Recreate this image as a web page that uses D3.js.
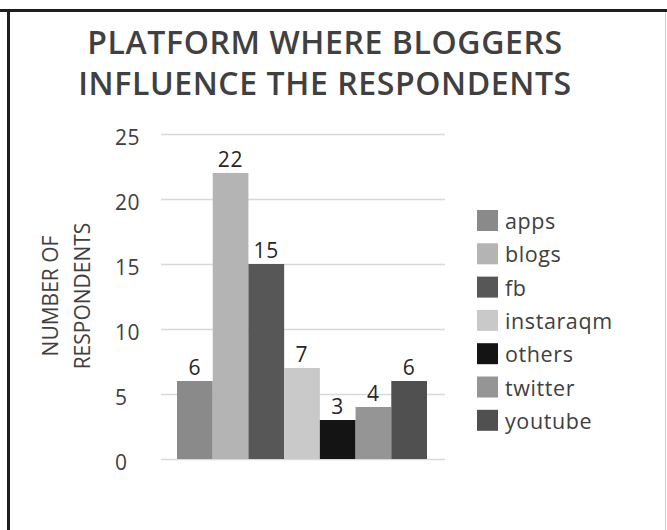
<!DOCTYPE html>
<html>
<head>
<meta charset="utf-8">
<script src="https://cdn.jsdelivr.net/npm/d3@7"></script>
<style>
  html, body { margin: 0; padding: 0; background: #fff; }
  svg { display: block; }
</style>
</head>
<body>
<svg id="chart" width="667" height="530"></svg>
<script>
// Platforms and how many respondents named each one
const platforms = ["apps", "blogs", "fb", "instaraqm", "others", "twitter", "youtube"];
const respondents = [6, 22, 15, 7, 3, 4, 6];
const platformColors = ["#8a8a8a", "#b4b4b4", "#575757", "#c9c9c9", "#141414", "#959595", "#505050"];
const yTicks = [0, 5, 10, 15, 20, 25];
const titleLines = ["PLATFORM WHERE BLOGGERS", "INFLUENCE THE RESPONDENTS"];
const yTitleLines = ["NUMBER OF", "RESPONDENTS"];

const svg = d3.select("#chart");
const font = "'Open Sans', 'Noto Sans', sans-serif";
const textColor = "#404040";

// frame
svg.append("rect").attr("x", 0).attr("y", 0).attr("width", 667).attr("height", 530).attr("fill", "#fff");
svg.append("line").attr("x1", 0).attr("x2", 667).attr("y1", 10.5).attr("y2", 10.5)
  .attr("stroke", "#1e1e1e").attr("stroke-width", 3);
svg.append("line").attr("x1", 8.5).attr("x2", 8.5).attr("y1", 10).attr("y2", 530)
  .attr("stroke", "#1e1e1e").attr("stroke-width", 3);
svg.append("line").attr("x1", 665.5).attr("x2", 665.5).attr("y1", 12).attr("y2", 530)
  .attr("stroke", "#d0d0d0").attr("stroke-width", 1);

// title
svg.append("g").selectAll("text").data(titleLines).join("text")
  .attr("x", 325).attr("y", (d, i) => 54 + i * 41)
  .attr("text-anchor", "middle")
  .attr("font-family", font).attr("font-weight", 600).attr("font-size", 32)
  .attr("letter-spacing", 0.6)
  .attr("fill", textColor)
  .text(d => d);

// scales
const y = d3.scaleLinear().domain([0, 25]).range([459, 134]);
const x = d3.scaleBand().domain(platforms).range([177, 427]).padding(0);
const color = d3.scaleOrdinal().domain(platforms).range(platformColors);

// gridlines
svg.append("g").selectAll("line").data(yTicks).join("line")
  .attr("x1", 161).attr("x2", 445)
  .attr("y1", d => y(d) + 0.5).attr("y2", d => y(d) + 0.5)
  .attr("stroke", "#d9d9d9").attr("stroke-width", 1.5);

// y tick labels
svg.append("g").selectAll("text").data(yTicks).join("text")
  .attr("x", 115).attr("y", d => y(d) + 10.5)
  .attr("font-family", font).attr("font-size", 21)
  .attr("letter-spacing", 0.5)
  .attr("fill", textColor)
  .text(d => d);

// y axis title
svg.append("g").attr("transform", "translate(0,296) rotate(-90)")
  .selectAll("text").data(yTitleLines).join("text")
  .attr("x", 0).attr("y", (d, i) => 58 + i * 32)
  .attr("text-anchor", "middle")
  .attr("font-family", font).attr("font-size", 21)
  .attr("fill", textColor)
  .text(d => d);

// bars
const data = platforms.map((p, i) => ({ p, v: respondents[i] }));
svg.append("g").selectAll("rect").data(data).join("rect")
  .attr("x", d => x(d.p)).attr("width", x.bandwidth())
  .attr("y", d => y(d.v)).attr("height", d => y(0) - y(d.v))
  .attr("fill", d => color(d.p));

// value labels
svg.append("g").selectAll("text").data(data).join("text")
  .attr("x", d => x(d.p) + x.bandwidth() / 2).attr("y", d => y(d.v) - 6)
  .attr("text-anchor", "middle")
  .attr("font-family", font).attr("font-size", 21)
  .attr("letter-spacing", 0.8)
  .attr("fill", "#262626")
  .text(d => d.v);

// legend
const legend = svg.append("g").selectAll("g").data(platforms).join("g")
  .attr("transform", (d, i) => `translate(477, ${210 + i * 33.3})`);
legend.append("rect").attr("width", 21).attr("height", 21).attr("fill", d => color(d));
legend.append("text").attr("x", 28).attr("y", 19)
  .attr("font-family", font).attr("font-size", 21.5)
  .attr("letter-spacing", 0.6)
  .attr("fill", textColor)
  .text(d => d);
</script>
</body>
</html>
